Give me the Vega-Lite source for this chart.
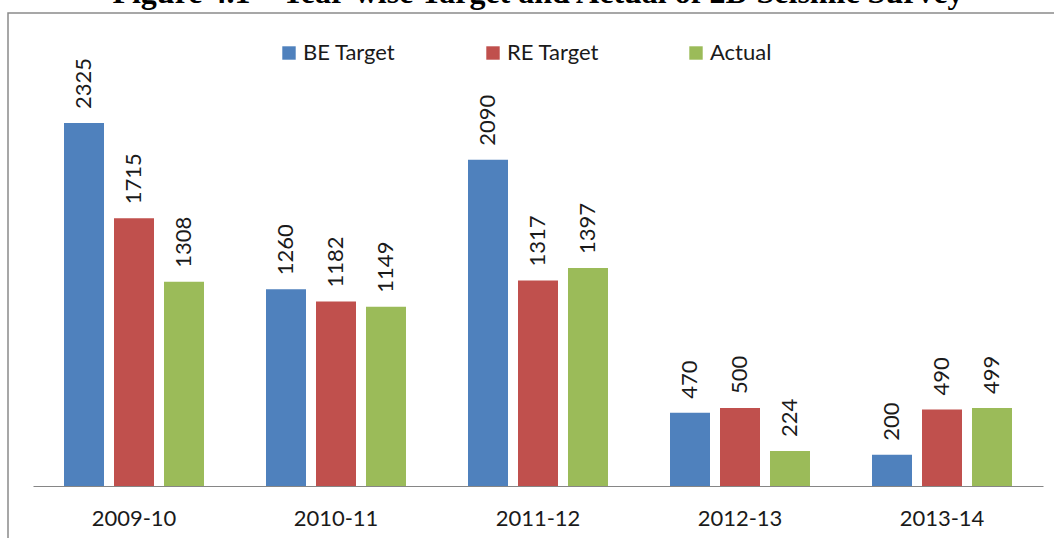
{
  "$schema": "https://vega.github.io/schema/vega-lite/v6.json",
  "autosize": "none",
  "padding": {"left": 8, "top": 13, "right": 0, "bottom": 0},
  "width": 1060,
  "height": 535,
  "title": {
    "text": "Figure 4.1 – Year-wise Target and Actual of 2D Seismic Survey",
    "font": "Liberation Serif",
    "fontSize": 32,
    "fontWeight": "bold",
    "color": "#000000",
    "anchor": "middle",
    "baseline": "alphabetic",
    "offset": 0,
    "dy": 22
  },
  "config": {
    "view": {"stroke": "#8a8a8a", "strokeWidth": 1.5},
    "font": "Lato"
  },
  "data": {
    "values": [
      {"year": "2009-10", "series": "BE Target", "value": 2325},
      {"year": "2009-10", "series": "RE Target", "value": 1715},
      {"year": "2009-10", "series": "Actual", "value": 1308},
      {"year": "2010-11", "series": "BE Target", "value": 1260},
      {"year": "2010-11", "series": "RE Target", "value": 1182},
      {"year": "2010-11", "series": "Actual", "value": 1149},
      {"year": "2011-12", "series": "BE Target", "value": 2090},
      {"year": "2011-12", "series": "RE Target", "value": 1317},
      {"year": "2011-12", "series": "Actual", "value": 1397},
      {"year": "2012-13", "series": "BE Target", "value": 470},
      {"year": "2012-13", "series": "RE Target", "value": 500},
      {"year": "2012-13", "series": "Actual", "value": 224},
      {"year": "2013-14", "series": "BE Target", "value": 200},
      {"year": "2013-14", "series": "RE Target", "value": 490},
      {"year": "2013-14", "series": "Actual", "value": 499}
    ]
  },
  "encoding": {
    "x": {
      "field": "year",
      "type": "nominal",
      "sort": null,
      "scale": {"range": [25, 1035], "paddingInner": 0.307, "paddingOuter": 0.1535},
      "axis": {
        "title": null,
        "orient": "bottom",
        "offset": -62,
        "labelAngle": 0,
        "labelFont": "Lato",
        "labelFontSize": 22,
        "labelColor": "#1a1a1a",
        "labelPadding": 22,
        "ticks": false,
        "domainColor": "#868686",
        "domainWidth": 1.2,
        "grid": false
      }
    },
    "xOffset": {
      "field": "series",
      "type": "nominal",
      "sort": ["BE Target", "RE Target", "Actual"],
      "scale": {"paddingInner": 0.2, "paddingOuter": 0}
    },
    "y": {
      "field": "value",
      "type": "quantitative",
      "scale": {"domain": [-397, 3030], "nice": false, "zero": false},
      "axis": null
    }
  },
  "layer": [
    {
      "mark": {"type": "bar"},
      "encoding": {
        "y2": {"datum": 0},
        "color": {
          "field": "series",
          "type": "nominal",
          "sort": ["BE Target", "RE Target", "Actual"],
          "scale": {"domain": ["BE Target", "RE Target", "Actual"], "range": ["#4F81BD", "#C0504D", "#9BBB59"]},
          "legend": {
            "title": null,
            "orient": "none",
            "direction": "horizontal",
            "legendX": 270,
            "legendY": 29,
            "padding": 0,
            "symbolType": "square",
            "symbolSize": 180,
            "symbolStrokeWidth": 0,
            "labelFont": "Lato",
            "labelFontSize": 22,
            "labelColor": "#1a1a1a",
            "labelOffset": 3,
            "columnPadding": 86
          }
        }
      }
    },
    {
      "mark": {"type": "text", "angle": 270, "align": "left", "baseline": "middle", "dx": 14, "font": "Lato", "fontSize": 22, "color": "#1a1a1a"},
      "encoding": {
        "text": {"field": "value", "type": "quantitative"}
      }
    }
  ]
}
